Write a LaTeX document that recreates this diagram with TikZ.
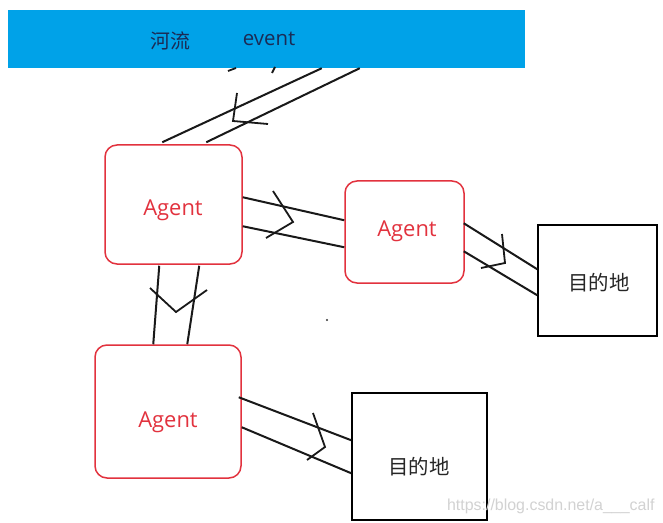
\documentclass[tikz,border=0pt]{standalone}
\usepackage{fontspec}
\setmainfont{Open Sans}
\newfontfamily\cjk{Noto Sans CJK SC}
\usetikzlibrary{calc}
\definecolor{riverblue}{HTML}{00A2E8}
\definecolor{agentred}{HTML}{E2323E}
\definecolor{navytext}{HTML}{1B2B55}
\definecolor{wmgray}{HTML}{D2D2D2}
\begin{document}
\begin{tikzpicture}[x=1bp,y=-1bp,
  agentbox/.style={draw=agentred,line width=1.5bp,rounded corners=12bp,fill=white,inner sep=0pt},
  destbox/.style={draw=black,line width=1.5bp,fill=white,inner sep=0pt},
  agenttext/.style={text=agentred,font=\fontsize{22}{26}\selectfont},
  desttext/.style={text=black!85,font=\cjk\fontsize{20.5}{24}\selectfont},
  pipe/.style={line width=2bp,black!90},
  flowmark/.style={line width=1.8bp,black!90,line join=miter}]
\useasboundingbox[fill=white] (0,0) rectangle (663,523);
% river
\node[fill=riverblue,minimum width=517bp,minimum height=58bp,inner sep=0pt] (river) at (266.5,39) {};
\node[text=navytext,font=\cjk\fontsize{20}{24}\selectfont] (rivertxt) at (170,41) {河流};
\node[text=navytext,font=\fontsize{20.5}{24}\selectfont] (eventtxt) at (269,39) {event};
% boxes
\node[agentbox,minimum width=137bp,minimum height=119bp] (a1) at (173.5,204.5) {};
\node[agenttext] (a1t) at (173,210) {Agent};
\node[agentbox,minimum width=119bp,minimum height=102bp] (a2) at (404.5,232) {};
\node[agenttext] (a2t) at (407,231) {Agent};
\node[agentbox,minimum width=146bp,minimum height=133bp] (a3) at (168,411.5) {};
\node[agenttext] (a3t) at (168,422) {Agent};
\node[destbox,minimum width=119bp,minimum height=111bp] (d1) at (597.5,280.5) {};
\node[desttext] (d1t) at (599,283) {目的地};
\node[destbox,minimum width=135bp,minimum height=127bp] (d2) at (419.5,456.5) {};
\node[desttext] (d2t) at (419,467) {目的地};
% pipes
\draw[pipe] ($(a1.north west)+(58,-2)$) -- ($(river.south west)+(314,0)$);
\draw[pipe] ($(a1.north west)+(102,-2)$) -- ($(river.south west)+(352,0)$);
\draw[pipe] ($(a1.north east)+(0,53)$) -- ($(a2.north west)+(0,40)$);
\draw[pipe] ($(a1.north east)+(0,82)$) -- ($(a2.north west)+(0,67)$);
\draw[pipe] ($(a2.north east)+(-1,43)$) -- ($(d1.north west)+(0,45)$);
\draw[pipe] ($(a2.north east)+(-1,71)$) -- ($(d1.north west)+(0,71)$);
\draw[pipe] ($(a1.south west)+(55,1)$) -- ($(a3.north west)+(59,0)$);
\draw[pipe] ($(a1.south west)+(95,1)$) -- ($(a3.north west)+(93,0)$);
\draw[pipe] ($(a3.north east)+(-3,53)$) -- ($(d2.north west)+(0,48)$);
\draw[pipe] ($(a3.north east)+(0,83)$) -- ($(d2.north west)+(0,81)$);
% flow marks
\draw[flowmark] (237,93) -- (233,121) -- (268,124);
\draw[flowmark] (228,71) -- (236,68);
\draw[flowmark] (272,73) -- (275,67);
\draw[flowmark] (273,191) -- (293,222) -- (266,238);
\draw[flowmark] (502,234) -- (505,263) -- (481,268);
\draw[flowmark] (150,288) -- (176,312) -- (207,290);
\draw[flowmark] (313,413) -- (325,447) -- (307,460);
\fill[black!80] (327,320) circle (1.2bp);
% watermark
\node[text=wmgray,font=\fontsize{16}{19}\selectfont\fontspec{Liberation Sans},anchor=east] (wm) at (658,506) {https://blog.csdn.net/a\_\_\_calf};
\end{tikzpicture}
\end{document}
